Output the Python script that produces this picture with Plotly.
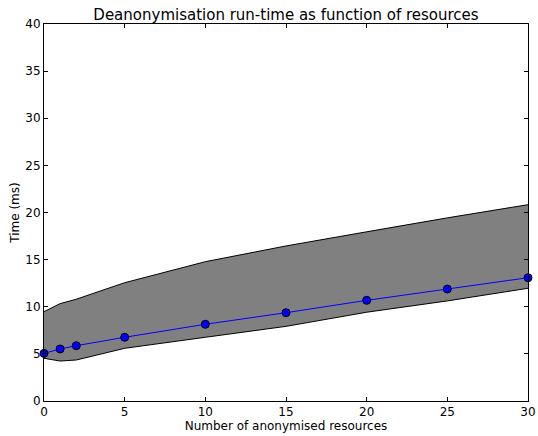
import plotly.graph_objects as go

# Number of anonymised resources
resources = [0, 1, 2, 5, 10, 15, 20, 25, 30]
# Mean run-time (ms)
mean_time = [5.05, 5.52, 5.87, 6.76, 8.14, 9.37, 10.68, 11.88, 13.08]
# Spread of run-time (ms)
upper_time = [9.48, 10.33, 10.8, 12.55, 14.78, 16.45, 17.95, 19.43, 20.83]
lower_time = [4.53, 4.24, 4.35, 5.59, 6.76, 7.92, 9.42, 10.62, 11.96]

x_ticks = [0, 5, 10, 15, 20, 25, 30]
y_ticks = [0, 5, 10, 15, 20, 25, 30, 35, 40]

font = dict(family="DejaVu Sans", size=12, color="black")

fig = go.Figure()

# Shaded band between the lower and upper bounds
fig.add_trace(go.Scatter(
    x=resources, y=lower_time, mode="lines",
    line=dict(color="black", width=1), showlegend=False, hoverinfo="skip",
))
fig.add_trace(go.Scatter(
    x=resources, y=upper_time, mode="lines",
    line=dict(color="black", width=1), fill="tonexty", fillcolor="#808080",
    showlegend=False, hoverinfo="skip",
))

# Mean run-time
fig.add_trace(go.Scatter(
    x=resources, y=mean_time, mode="lines+markers",
    line=dict(color="blue", width=1),
    marker=dict(color="blue", size=8, line=dict(color="black", width=1)),
    showlegend=False, cliponaxis=False,
))

axis_common = dict(
    showline=True, linecolor="black", linewidth=1, mirror="ticks",
    ticks="inside", ticklen=4, tickwidth=1, tickcolor="black",
    showgrid=False, zeroline=False, tickfont=font, automargin=False,
)

fig.update_layout(
    width=538, height=436,
    margin=dict(l=44, r=10, t=24, b=35),
    paper_bgcolor="white", plot_bgcolor="white",
    font=font,
    title=dict(
        text="Deanonymisation run-time as function of resources",
        font=dict(family="DejaVu Sans", size=15, color="black"),
        x=0.5, xanchor="center", xref="paper", y=1, yref="paper",
        yanchor="bottom", pad=dict(b=4), automargin=False,
    ),
    xaxis=dict(
        range=[0, 30], tickvals=x_ticks, ticktext=[str(v) for v in x_ticks],
        title=dict(text="Number of anonymised resources", font=font, standoff=2),
        **axis_common,
    ),
    yaxis=dict(
        range=[0, 40], tickvals=y_ticks, ticktext=[str(v) for v in y_ticks],
        title=dict(text="Time (ms)", font=font, standoff=3),
        **axis_common,
    ),
)

fig.write_html("out.html")
